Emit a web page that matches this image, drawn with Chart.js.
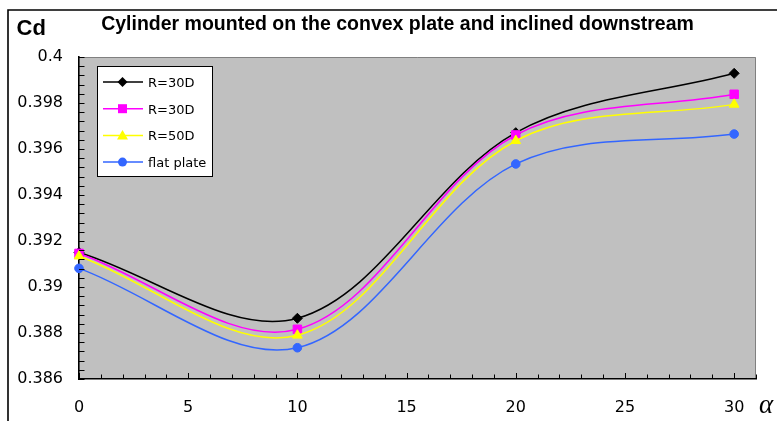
<!DOCTYPE html>
<html>
<head>
<meta charset="utf-8">
<script src="https://cdn.jsdelivr.net/npm/chart.js@4.4.1/dist/chart.umd.min.js"></script>
<style>
  html, body { margin: 0; padding: 0; background: #ffffff; }
  canvas { display: block; }
</style>
</head>
<body>
<canvas id="chart" width="777" height="421"></canvas>
<script>
// Inclination angle (deg) and drag coefficient for each configuration
const alphaDeg = [0, 10, 20, 30];
const cdConvexR30 = [0.3915, 0.38864, 0.39671, 0.39929];
const cdConvexR30b = [0.39146, 0.38816, 0.39661, 0.39838];
const cdConvexR50 = [0.39134, 0.3879, 0.39636, 0.39794];
const cdFlatPlate = [0.39081, 0.38736, 0.39535, 0.39665];
const seriesNames = ['R=30D', 'R=30D', 'R=50D', 'flat plate'];

// Labelled tick values
const xTickLabels = [0, 5, 10, 15, 20, 25, 30];
const yTickLabels = [0.386, 0.388, 0.39, 0.392, 0.394, 0.396, 0.398, 0.4];

const chartTitle = 'Cylinder mounted on the convex plate and inclined downstream';
const yAxisName = 'Cd';
const xAxisName = '\u03B1';

function toPoints(values) {
  return alphaDeg.map((a, i) => ({ x: a, y: values[i] }));
}

function makeSeries(label, values, color, pointStyle, radius, order) {
  return {
    label: label,
    data: toPoints(values),
    borderColor: color,
    backgroundColor: color,
    pointBackgroundColor: color,
    pointBorderColor: color,
    pointBorderWidth: 1,
    pointStyle: pointStyle,
    pointRadius: radius,
    pointHoverRadius: radius,
    borderWidth: 1.5,
    tension: 0.34,
    fill: false,
    clip: false,
    order: order
  };
}

const datasets = [
  makeSeries(seriesNames[0], cdConvexR30, '#000000', 'rectRot', 5, 3),
  makeSeries(seriesNames[1], cdConvexR30b, '#ff00ff', 'rect', 6, 2),
  makeSeries(seriesNames[2], cdConvexR50, '#ffff00', 'triangle', 5.6, 1),
  makeSeries(seriesNames[3], cdFlatPlate, '#3366ff', 'circle', 4.3, 0)
];

function drawMarker(ctx, style, x, y, color) {
  ctx.save();
  ctx.fillStyle = color;
  ctx.beginPath();
  if (style === 'rectRot') {
    const r = 5;
    ctx.moveTo(x, y - r); ctx.lineTo(x + r, y); ctx.lineTo(x, y + r); ctx.lineTo(x - r, y);
    ctx.closePath();
  } else if (style === 'rect') {
    ctx.rect(x - 4.5, y - 4.5, 9, 9);
  } else if (style === 'triangle') {
    ctx.moveTo(x, y - 5.5); ctx.lineTo(x + 5.5, y + 4); ctx.lineTo(x - 5.5, y + 4);
    ctx.closePath();
  } else {
    ctx.arc(x, y, 4.5, 0, Math.PI * 2);
  }
  ctx.fill();
  ctx.restore();
}

const decorPlugin = {
  id: 'decor',
  beforeDraw(chart) {
    const { ctx, chartArea: a } = chart;
    ctx.save();
    ctx.fillStyle = '#ffffff';
    ctx.fillRect(0, 0, chart.width, chart.height);
    ctx.fillStyle = '#c0c0c0';
    ctx.fillRect(a.left, a.top, a.right - a.left, a.bottom - a.top);
    // plot area outline (top and right)
    ctx.strokeStyle = '#808080';
    ctx.lineWidth = 1;
    ctx.beginPath();
    ctx.moveTo(a.left, a.top + 0.5);
    ctx.lineTo(a.right - 0.5, a.top + 0.5);
    ctx.lineTo(a.right - 0.5, a.bottom);
    ctx.stroke();
    ctx.restore();
  },
  afterDraw(chart) {
    const { ctx, chartArea: a } = chart;
    const xs = chart.scales.x;
    const ys = chart.scales.y;
    ctx.save();

    // inward tick marks
    ctx.strokeStyle = '#000000';
    ctx.lineWidth = 1;
    ctx.beginPath();
    xs.ticks.forEach(t => {
      const px = Math.round(xs.getPixelForValue(t.value)) + 0.5;
      const len = xTickLabels.includes(t.value) ? 6 : 4.5;
      ctx.moveTo(px, a.bottom);
      ctx.lineTo(px, a.bottom - len);
    });
    ys.ticks.forEach(t => {
      const py = Math.round(ys.getPixelForValue(t.value)) + 0.5;
      ctx.moveTo(a.left, py);
      ctx.lineTo(a.left + 5.5, py);
    });
    ctx.stroke();

    // legend
    const lx = 97, ly = 66, lw = 116, lh = 111;
    ctx.fillStyle = '#ffffff';
    ctx.fillRect(lx, ly, lw, lh);
    ctx.strokeStyle = '#000000';
    ctx.lineWidth = 1;
    ctx.strokeRect(lx + 0.5, ly + 0.5, lw - 1, lh - 1);
    ctx.font = '13px "DejaVu Sans"';
    ctx.textAlign = 'left';
    ctx.textBaseline = 'alphabetic';
    chart.data.datasets.forEach((ds, i) => {
      const cy = 82 + i * 26.7;
      ctx.strokeStyle = ds.borderColor;
      ctx.lineWidth = 1.5;
      ctx.beginPath();
      ctx.moveTo(103, cy);
      ctx.lineTo(143, cy);
      ctx.stroke();
      drawMarker(ctx, ds.pointStyle, 122.5, cy, ds.pointBackgroundColor);
      ctx.fillStyle = '#000000';
      ctx.fillText(ds.label, 148, cy + 4.8);
    });

    // title and axis names
    ctx.fillStyle = '#000000';
    ctx.font = 'bold 19.5px "Liberation Sans", Arial, sans-serif';
    ctx.textAlign = 'center';
    ctx.fillText(chartTitle, 397.5, 29.5);
    ctx.textAlign = 'left';
    ctx.font = 'bold 22px "Liberation Sans", Arial, sans-serif';
    ctx.fillText(yAxisName, 16.5, 35);
    ctx.font = 'italic 27px "Liberation Serif", "Times New Roman", serif';
    ctx.fillText(xAxisName, 759, 413);

    // outer frame
    ctx.strokeStyle = '#000000';
    ctx.lineWidth = 1.6;
    ctx.beginPath();
    ctx.moveTo(8, chart.height);
    ctx.lineTo(8, 10);
    ctx.lineTo(chart.width, 10);
    ctx.stroke();
    ctx.restore();
  }
};

new Chart(document.getElementById('chart'), {
  type: 'line',
  data: { datasets: datasets },
  options: {
    responsive: false,
    animation: false,
    devicePixelRatio: 1,
    layout: { padding: { left: 0, top: 57, right: 21, bottom: 0 } },
    plugins: {
      legend: { display: false },
      title: { display: false },
      tooltip: { enabled: false }
    },
    scales: {
      x: {
        type: 'linear',
        min: 0,
        max: 31,
        grid: { display: false, drawTicks: false },
        border: { display: true, color: '#000000', width: 1.6 },
        ticks: {
          stepSize: 1,
          autoSkip: false,
          maxRotation: 0,
          padding: 19,
          color: '#000000',
          font: { family: '"DejaVu Sans"', size: 16 },
          callback: v => (xTickLabels.includes(v) ? String(v) : '')
        },
        afterFit: s => { s.height = 42; }
      },
      y: {
        type: 'linear',
        min: 0.386,
        max: 0.4,
        grid: { display: false, drawTicks: false },
        border: { display: true, color: '#000000', width: 1.6 },
        ticks: {
          stepSize: 0.0004,
          autoSkip: false,
          padding: 16,
          color: '#000000',
          font: { family: '"DejaVu Sans"', size: 16 },
          callback: v => {
            const hit = yTickLabels.find(t => Math.abs(t - v) < 1e-7);
            return hit === undefined ? '' : String(hit);
          }
        },
        afterFit: s => { s.width = 79; }
      }
    }
  },
  plugins: [decorPlugin]
});
</script>
</body>
</html>
